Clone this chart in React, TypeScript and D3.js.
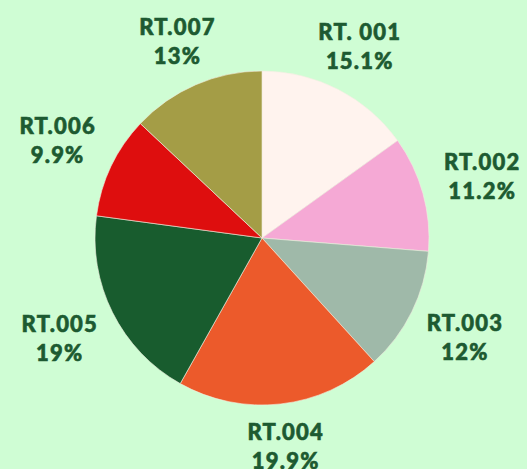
import React, { useEffect, useRef } from "react";
import * as d3 from "d3";

const labels = ["RT. 001", "RT.002", "RT.003", "RT.004", "RT.005", "RT.006", "RT.007"];
const shares = [15.1, 11.2, 12, 19.9, 19, 9.9, 13];
const shareText = ["15.1%", "11.2%", "12%", "19.9%", "19%", "9.9%", "13%"];
const colors = ["#fff3ee", "#f5a9d5", "#9fb9a9", "#ec5a2b", "#185c2e", "#de0e0e", "#a49d46"];

const width = 527;
const height = 469;
const bg = "#cffdd4";
const textColor = "#1d5a31";

const App = () => {
  const ref = useRef<SVGSVGElement>(null);

  useEffect(() => {
    document.body.style.margin = "0";
    document.body.style.background = bg;

    const svg = d3.select(ref.current);
    svg.selectAll("*").remove();

    const cx = 262;
    const cy = 238;
    const r = 167;

    const g = svg.append("g").attr("transform", `translate(${cx}, ${cy})`);

    const pie = d3
      .pie<number>()
      .sort(null)
      .value((d) => d);
    const arcs = pie(shares);

    const arc = d3.arc<d3.PieArcDatum<number>>().innerRadius(0).outerRadius(r);

    g.selectAll("path")
      .data(arcs)
      .join("path")
      .attr("d", arc)
      .attr("fill", (d, i) => colors[i])
      .attr("stroke", "#f2efe0")
      .attr("stroke-width", 0.6);

    // labels sit further out on the sides because the text is wider than tall
    const labelPos = (d: d3.PieArcDatum<number>) => {
      const a = (d.startAngle + d.endAngle) / 2;
      const lr = 210 + 20 * Math.sin(a) ** 2;
      return [Math.sin(a) * lr, -Math.cos(a) * lr];
    };

    const lab = g
      .selectAll("text")
      .data(arcs)
      .join("text")
      .attr("text-anchor", "middle")
      .attr("font-family", "Lato, 'Open Sans', sans-serif")
      .attr("font-weight", 900)
      .attr("font-size", 22)
      .attr("letter-spacing", 1.2)
      .attr("fill", textColor)
      .attr("stroke", textColor)
      .attr("stroke-width", 0.6)
      .attr("transform", (d) => {
        const [x, y] = labelPos(d);
        return `translate(${x}, ${y})`;
      });

    lab
      .append("tspan")
      .attr("x", 0)
      .attr("y", -7)
      .text((d, i) => labels[i]);

    lab
      .append("tspan")
      .attr("x", 0)
      .attr("y", 22)
      .text((d, i) => shareText[i]);
  }, []);

  return (
    <svg
      ref={ref}
      width={width}
      height={height}
      style={{ position: "absolute", left: 0, top: 0, background: bg }}
    />
  );
};

export default App;
